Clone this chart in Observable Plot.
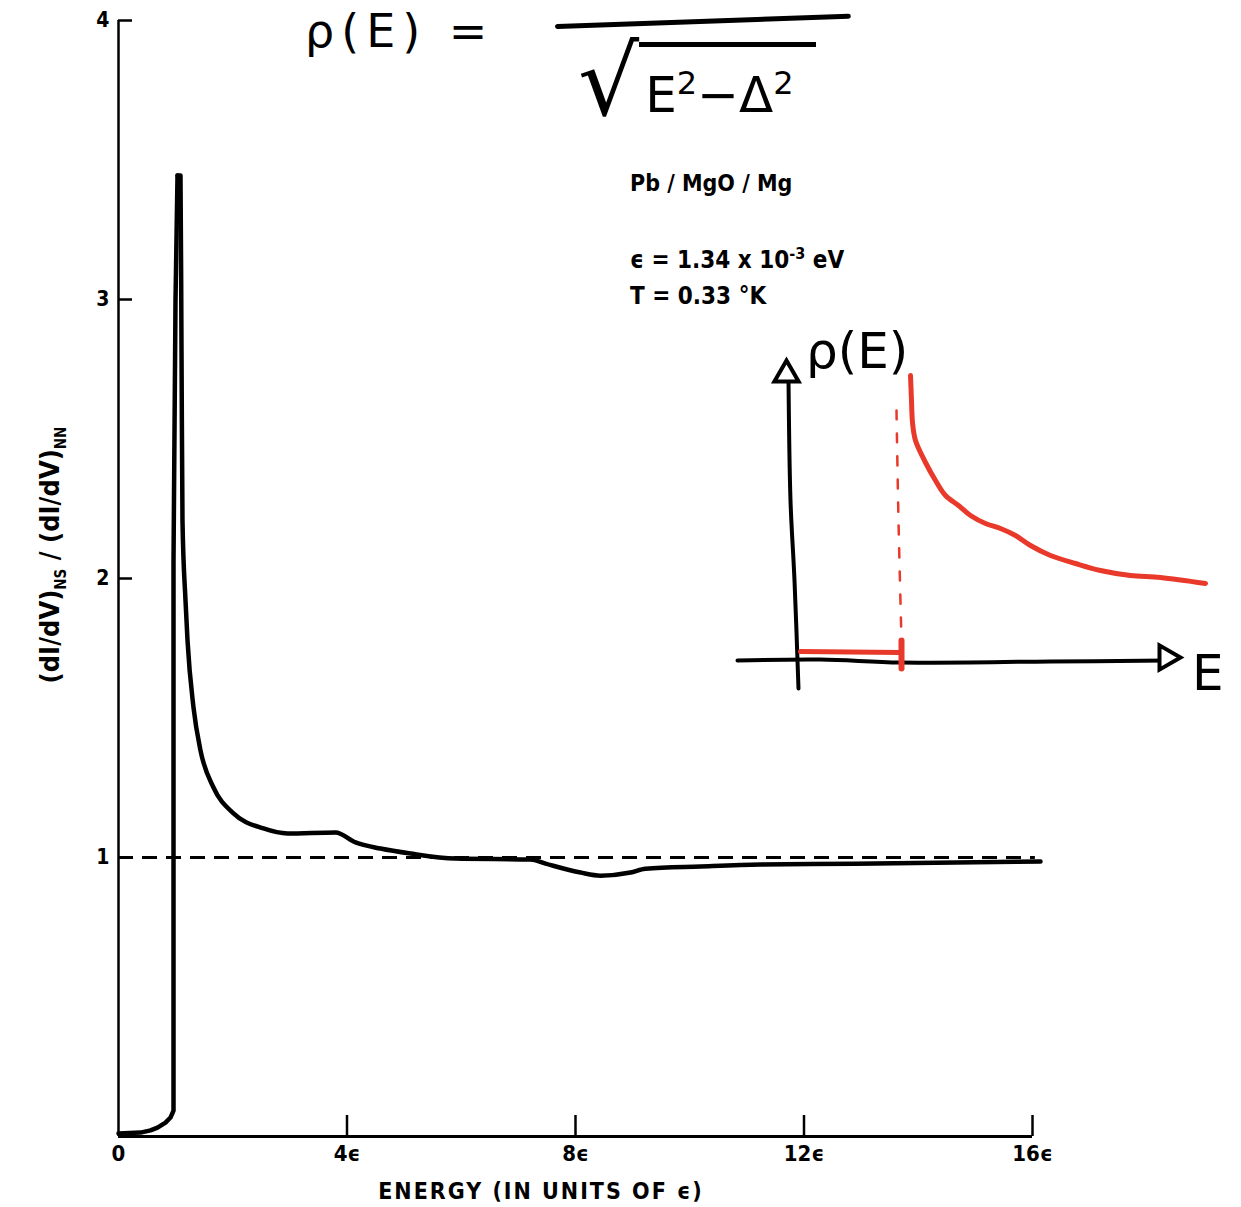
<!DOCTYPE html>
<html>
<head>
<meta charset="utf-8">
<script src="https://cdn.jsdelivr.net/npm/d3@7"></script>
<script src="https://cdn.jsdelivr.net/npm/@observablehq/plot@0.6"></script>
<style>
  body { margin: 0; background: #fff; }
  #wrap { position: relative; width: 1241px; height: 1207px; overflow: hidden; background: #fff; }
  .tw { position: absolute; font-family: "DejaVu Sans"; font-weight: bold; font-stretch: condensed; color: #000; white-space: nowrap; }
  .hw { position: absolute; font-family: "DejaVu Sans"; color: #000; white-space: nowrap; line-height: 1; }
  #main, #inset { position: absolute; left: 0; top: 0; }
  #inset { left: 720px; top: 320px; }
</style>
</head>
<body>
<div id="wrap">
  <div id="main"></div>
  <div id="inset"></div>

  <!-- handwritten formula -->
  <div class="hw" style="left:305px; top:8px; font-size:46px; letter-spacing:7px;">ρ(E) =</div>
  <div style="position:absolute; left:555px; top:24px; width:296px; height:5px; background:#000; border-radius:3px; transform:rotate(-2deg); transform-origin:left center;"></div>
  <div class="hw" style="left:578px; top:34px; display:flex; align-items:flex-start;">
    <span style="font-size:96px; line-height:1;">√</span>
    <span style="font-size:50px; border-top:5px solid #000; margin-top:8px; padding:20px 22px 0 6px;">E<sup style="font-size:32px">2</sup>−Δ<sup style="font-size:32px">2</sup></span>
  </div>

  <!-- printed annotations -->
  <div class="tw" style="left:630px; top:170px; font-size:23px;">Pb / MgO / Mg</div>
  <div class="tw" style="left:630px; top:244px; font-size:24px;">ϵ = 1.34 x 10<sup style="font-size:16px">-3</sup> eV</div>
  <div class="tw" style="left:630px; top:282px; font-size:24px;">T = 0.33 °K</div>

  <!-- y-axis title -->
  <div class="tw" style="left:52px; top:555px; font-size:27px; transform:translate(-50%,-50%) rotate(-90deg);">(dI/dV)<sub style="font-size:15px">NS</sub> / (dI/dV)<sub style="font-size:15px">NN</sub></div>

  <!-- x-axis title -->
  <div class="tw" style="left:541px; top:1178px; font-size:23px; letter-spacing:2px; transform:translateX(-50%);">ENERGY (IN UNITS OF ϵ)</div>

  <!-- inset labels -->
  <div class="hw" style="left:806px; top:326px; font-size:50px;">ρ(E)</div>
  <div class="hw" style="left:1192px; top:648px; font-size:50px;">E</div>
</div>

<script>
// ---- main curve: conductance ratio vs energy (units of ϵ) ----
const energy = [0, 0.385, 0.56, 0.683, 0.823, 0.91, 0.963, 0.963, 0.998, 1.033, 1.085, 1.103, 1.12, 1.173, 1.208, 1.313, 1.435, 1.663, 2.013, 2.538, 2.958, 3.799, 4.149, 4.586, 5.112, 5.899, 7.212, 7.475, 8.088, 8.438, 8.963, 9.225, 10.188, 11.239, 12.902, 14.652, 16.14];
const ratio  = [0.011, 0.014, 0.022, 0.032, 0.05, 0.068, 0.093, 2.064, 2.996, 3.444, 3.444, 2.817, 2.208, 1.921, 1.778, 1.538, 1.384, 1.251, 1.158, 1.104, 1.086, 1.09, 1.054, 1.032, 1.014, 0.996, 0.993, 0.978, 0.946, 0.935, 0.946, 0.96, 0.968, 0.975, 0.978, 0.982, 0.986];
const peakIndex = 9;
const xTicks = [0, 4, 8, 12, 16];
const xTickLabels = ["0", "4ϵ", "8ϵ", "12ϵ", "16ϵ"];
const yTicks = [1, 2, 3, 4];
const normalLevel = [1];
const normalEnd = 16.05;

// ---- hand-drawn inset sketch (arbitrary sketch units, Δ = 1) ----
const sketchCurveX = [1.10, 1.11, 1.12, 1.15, 1.25, 1.35, 1.45, 1.58, 1.70, 1.85, 2.00, 2.15, 2.30, 2.50, 2.75, 3.00, 3.30, 3.60, 4.05];
const sketchCurveY = [2.85, 2.60, 2.38, 2.20, 1.98, 1.80, 1.65, 1.55, 1.45, 1.37, 1.32, 1.25, 1.15, 1.05, 0.97, 0.90, 0.85, 0.83, 0.77];
const sketchGapX = [0, 0.5, 1.0];
const sketchGapY = [0.09, 0.085, 0.08];
const sketchEdgeX = [0.96, 0.98, 1.01];
const sketchEdgeY = [2.5, 1.4, 0.2];
const sketchTickX = [1.01, 1.01];
const sketchTickY = [0.2, -0.08];
const sketchAxisYX = [-0.02, -0.06, -0.10, -0.12];
const sketchAxisYY = [-0.28, 0.8, 1.6, 2.82];
const sketchAxisXX = [-0.63, 0.2, 1.0, 2.5, 3.65];
const sketchAxisXY = [0.0, 0.01, -0.02, -0.01, 0.0];
const sketchArrows = [{x: -0.14, y: 2.86, rotate: 0}, {x: 3.66, y: 0.03, rotate: 90}];

const curve = energy.map((e, i) => ({e, r: ratio[i]}));
const rise = curve.slice(0, peakIndex + 1);
const decay = curve.slice(peakIndex);
const zip = (xs, ys) => xs.map((x, i) => ({x, y: ys[i]}));

const main = Plot.plot({
  width: 1241,
  height: 1207,
  marginLeft: 118,
  marginRight: 209,
  marginTop: 20,
  marginBottom: 71,
  style: "font-family:'DejaVu Sans'; font-weight:bold; font-stretch:condensed; font-size:21px; background:transparent; overflow:visible;",
  x: {domain: [0, 16]},
  y: {domain: [0, 4]},
  marks: [
    Plot.axisX({ticks: xTicks, tickSize: 0, tickPadding: 9, tickFormat: (d) => xTickLabels[xTicks.indexOf(d)], fontSize: 22, label: null}),
    Plot.axisY({ticks: yTicks, tickSize: 0, tickPadding: 9, tickFormat: (d) => String(d), fontSize: 21, label: null}),
    Plot.ruleY([0], {stroke: "#000", strokeWidth: 3}),
    Plot.ruleX([0], {stroke: "#000", strokeWidth: 2.5}),
    Plot.ruleX(xTicks.slice(1), {x: (d) => d, insetTop: 1095, stroke: "#000", strokeWidth: 2.5}),
    Plot.ruleY(yTicks, {y: (d) => d, insetRight: 900, stroke: "#000", strokeWidth: 2.5}),
    Plot.ruleY(normalLevel, {y: (d) => d, x1: 0, x2: normalEnd, stroke: "#000", strokeWidth: 3, strokeDasharray: "15,9"}),
    Plot.line(rise, {x: "e", y: "r", stroke: "#000", strokeWidth: 4.5, curve: "linear", strokeLinejoin: "round"}),
    Plot.line(decay, {x: "e", y: "r", stroke: "#000", strokeWidth: 4.5, curve: "monotone-x", strokeLinejoin: "round"})
  ]
});
document.getElementById("main").append(main);

const inset = Plot.plot({
  width: 521,
  height: 380,
  marginLeft: 0, marginRight: 0, marginTop: 0, marginBottom: 0,
  style: "background:transparent; overflow:visible;",
  x: {domain: [-0.8, 4.41], axis: null},
  y: {domain: [-0.4, 3.4], axis: null},
  marks: [
    Plot.line(zip(sketchAxisYX, sketchAxisYY), {x: "x", y: "y", stroke: "#000", strokeWidth: 4, curve: "catmull-rom", strokeLinecap: "round"}),
    Plot.line(zip(sketchAxisXX, sketchAxisXY), {x: "x", y: "y", stroke: "#000", strokeWidth: 4, curve: "catmull-rom", strokeLinecap: "round"}),
    Plot.dot(sketchArrows, {x: "x", y: "y", rotate: "rotate", symbol: "triangle", r: 9, stroke: "#000", strokeWidth: 4, fill: "#fff"}),
    Plot.line(zip(sketchGapX, sketchGapY), {x: "x", y: "y", stroke: "#e8392a", strokeWidth: 5, strokeLinecap: "round"}),
    Plot.line(zip(sketchTickX, sketchTickY), {x: "x", y: "y", stroke: "#e8392a", strokeWidth: 6, strokeLinecap: "round"}),
    Plot.line(zip(sketchEdgeX, sketchEdgeY), {x: "x", y: "y", stroke: "#e8392a", strokeWidth: 2.5, strokeDasharray: "9,14", curve: "catmull-rom"}),
    Plot.line(zip(sketchCurveX, sketchCurveY), {x: "x", y: "y", stroke: "#e8392a", strokeWidth: 5, curve: "catmull-rom", strokeLinecap: "round"})
  ]
});
document.getElementById("inset").append(inset);
</script>
</body>
</html>
